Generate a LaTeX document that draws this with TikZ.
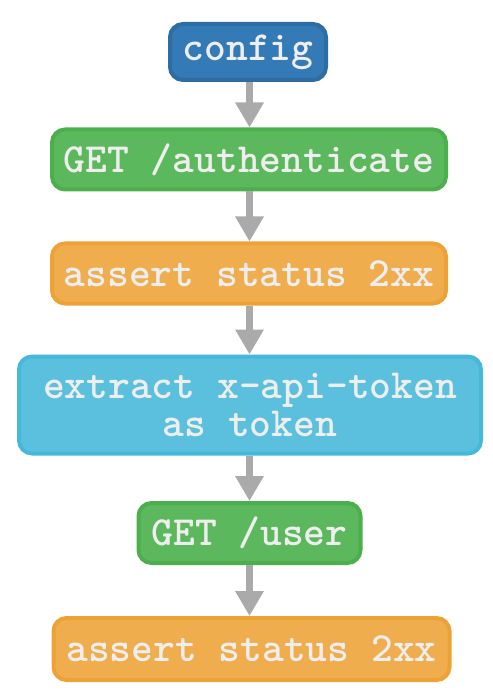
\documentclass[tikz,border=0pt]{standalone}
\usepackage{fontspec}
\usetikzlibrary{arrows.meta}
\definecolor{bluefill}{HTML}{337AB7}\definecolor{blueline}{HTML}{2E6DA4}
\definecolor{greenfill}{HTML}{5CB85C}\definecolor{greenline}{HTML}{4CAE4C}
\definecolor{orangefill}{HTML}{F0AD4E}\definecolor{orangeline}{HTML}{EEA236}
\definecolor{cyanfill}{HTML}{5BC0DE}\definecolor{cyanline}{HTML}{46B8DA}
\definecolor{txt}{HTML}{EEEEEE}
\definecolor{arrowgray}{HTML}{AAAAAA}
\tikzset{
  box/.style={rounded corners=13pt, line width=4pt, inner sep=0pt, text=txt,
    font=\fontsize{41.5}{38}\selectfont\ttfamily\bfseries, align=center},
  bluebox/.style={box, fill=bluefill, draw=blueline},
  greenbox/.style={box, fill=greenfill, draw=greenline},
  orangebox/.style={box, fill=orangefill, draw=orangeline},
  cyanbox/.style={box, fill=cyanfill, draw=cyanline},
  flow/.style={draw=arrowgray, line width=7pt, -{Triangle[width=27pt,length=25pt]}}
}
\begin{document}
\begin{tikzpicture}[x=1pt,y=-1pt]
\useasboundingbox (0,0) rectangle (492,700);
\node[bluebox, minimum width=156pt, minimum height=56pt] (config) at (248,52) {config};
\node[greenbox, minimum width=394pt, minimum height=60pt] (auth) at (249,159.5) {GET /authenticate};
\node[orangebox, minimum width=394pt, minimum height=60pt] (assert1) at (249,273.5) {assert status 2xx};
\node[cyanbox, minimum width=462pt, minimum height=97pt] (extract) at (250,405) {extract x-api-token\\as token};
\node[greenbox, minimum width=222pt, minimum height=60pt] (user) at (249.5,533) {GET /user};
\node[orangebox, minimum width=396pt, minimum height=62pt] (assert2) at (251.5,649) {assert status 2xx};
\coordinate (axis) at (249.5,0);
\draw[flow] (config.south -| axis) -- (auth.north -| axis);
\draw[flow] (auth.south -| axis) -- (assert1.north -| axis);
\draw[flow] (assert1.south -| axis) -- (extract.north -| axis);
\draw[flow] (extract.south -| axis) -- (user.north -| axis);
\draw[flow] (user.south -| axis) -- (assert2.north -| axis);
\end{tikzpicture}
\end{document}
